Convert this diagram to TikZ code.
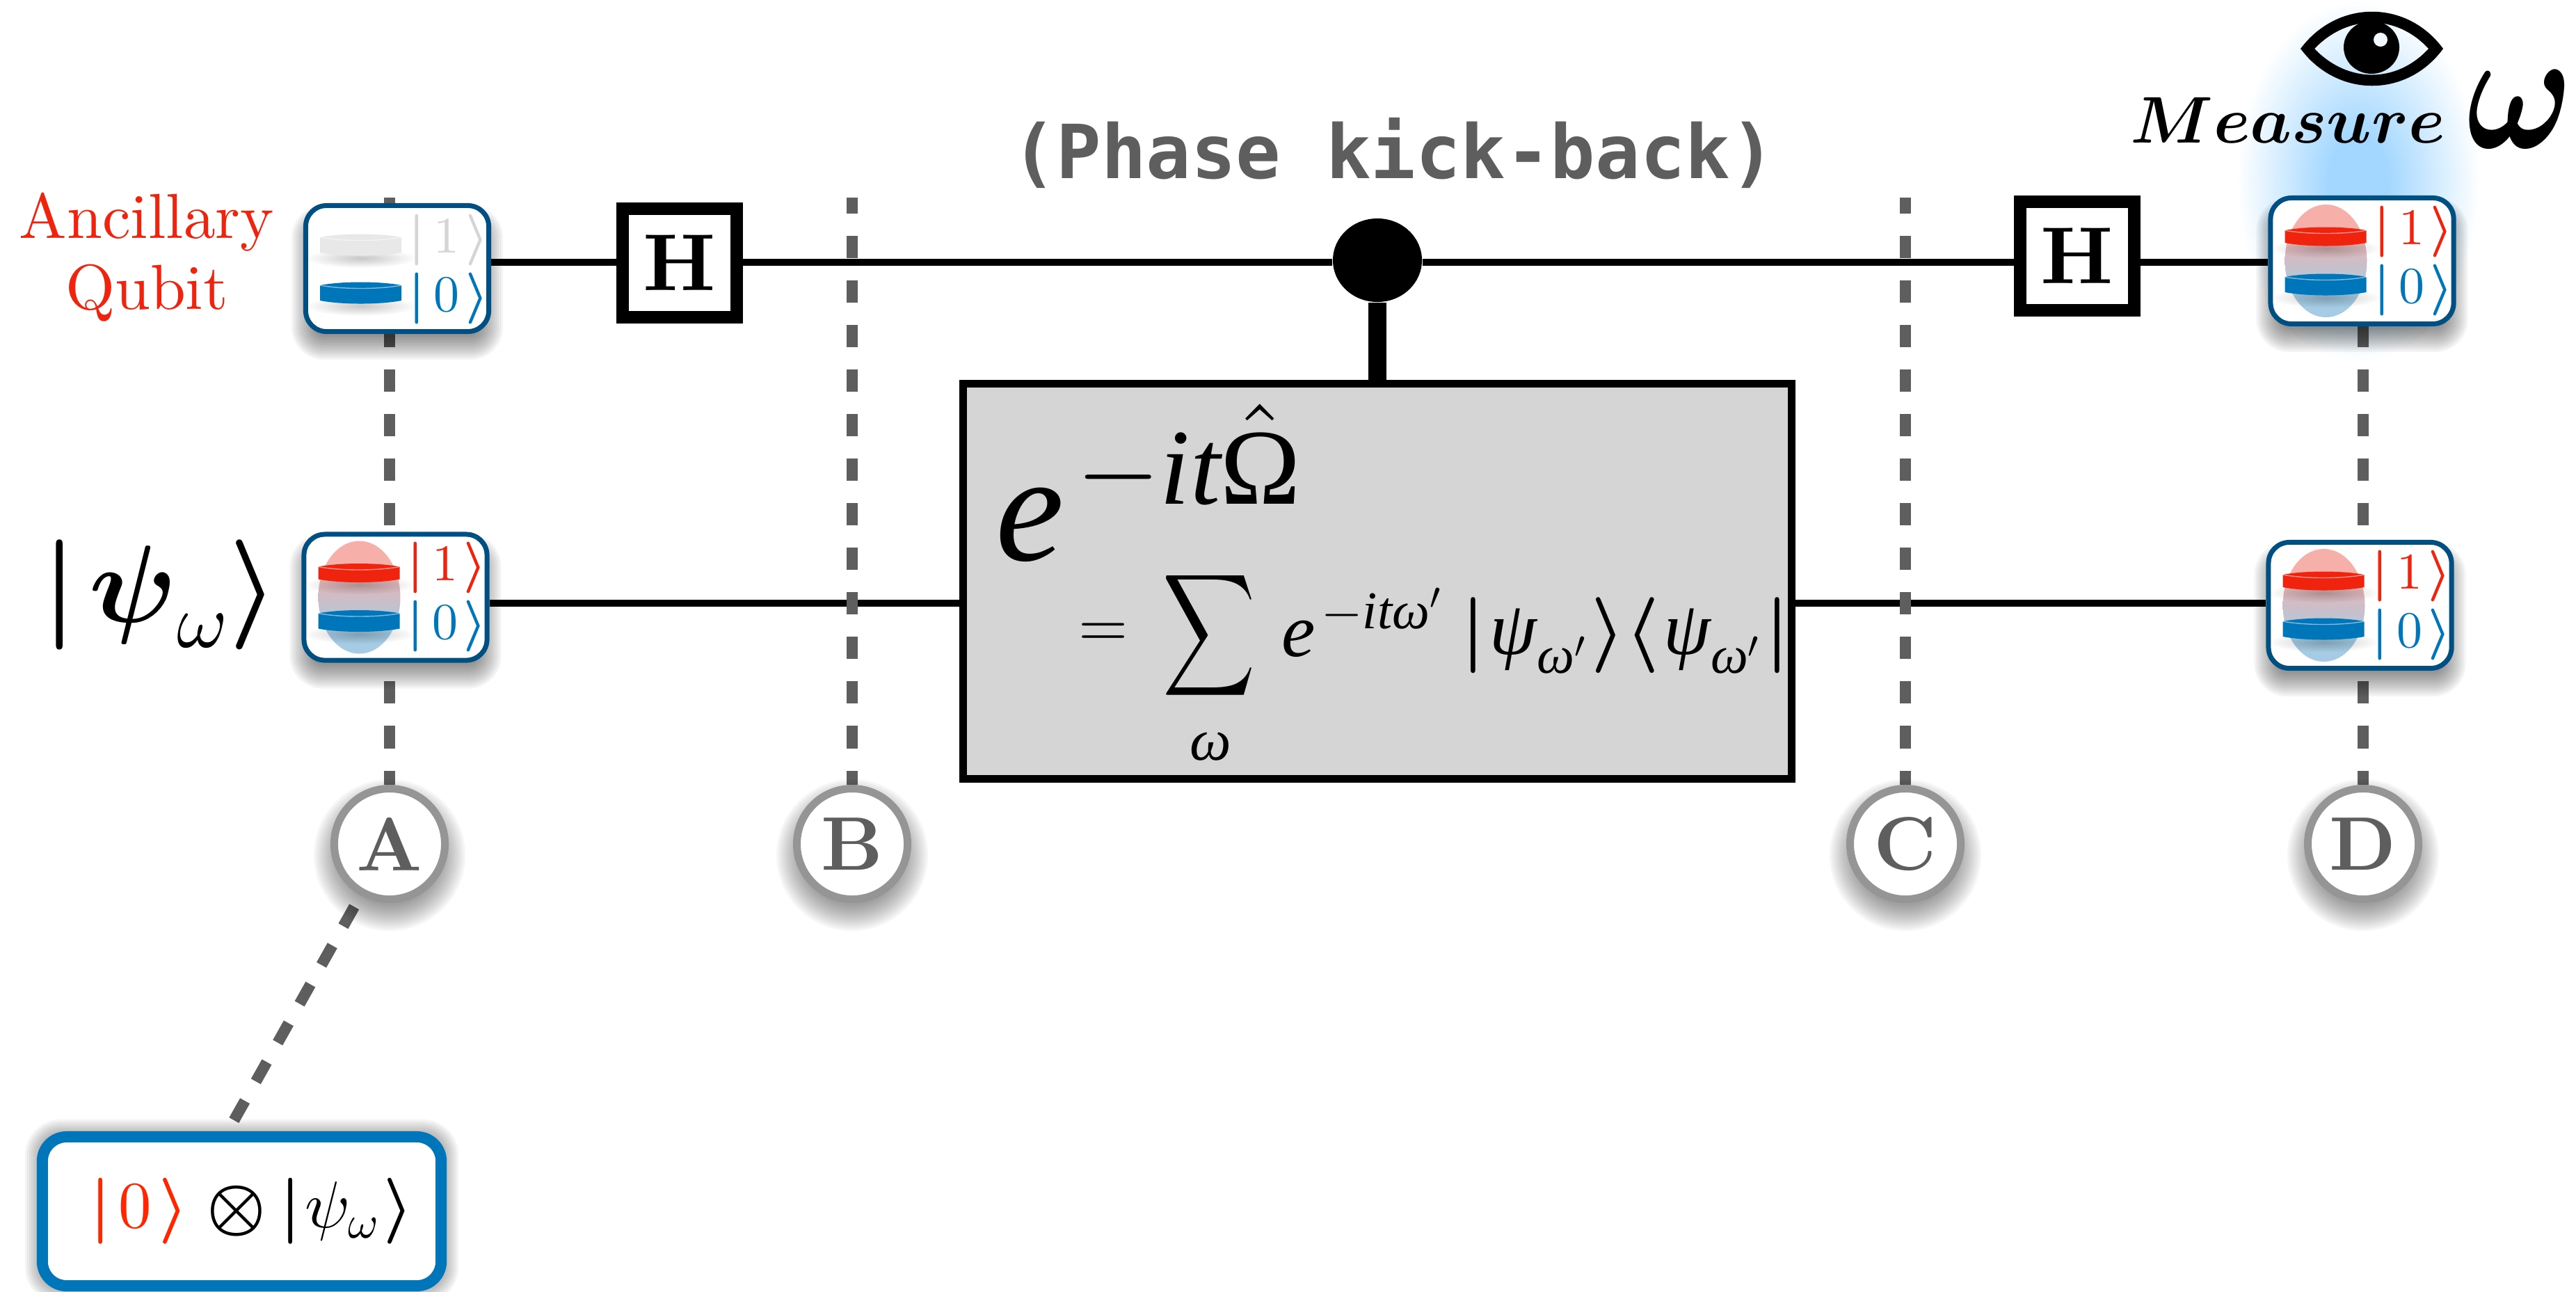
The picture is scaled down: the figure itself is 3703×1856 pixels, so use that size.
\documentclass[tikz,border=0pt]{standalone}
\usepackage{amsmath}
\usepackage{graphicx}
\usepackage{fontspec}
\setmainfont{lmroman10-regular.otf}[BoldFont=lmroman10-bold.otf]
\newfontfamily\timesfont{Liberation Serif}
\newfontfamily\chalkfont{DejaVu Sans Mono}
\usetikzlibrary{shapes.geometric,fadings}

% math glyphs keep their 10pt design at every size
\DeclareFontFamily{OT1}{cmr}{\hyphenchar\font45 }
\DeclareFontShape{OT1}{cmr}{m}{n}{<->cmr10}{}
\DeclareFontFamily{OML}{cmm}{\skewchar\font127 }
\DeclareFontShape{OML}{cmm}{m}{it}{<->cmmi10}{}
\DeclareFontShape{OML}{cmm}{b}{it}{<->cmmib10}{}
\DeclareFontFamily{OMS}{cmsy}{\skewchar\font48 }
\DeclareFontShape{OMS}{cmsy}{m}{n}{<->cmsy10}{}
\DeclareFontShape{OMS}{cmsy}{b}{n}{<->cmbsy10}{}
\DeclareFontFamily{OMX}{cmex}{}
\DeclareFontShape{OMX}{cmex}{m}{n}{<->cmex10}{}

\definecolor{qred}{HTML}{F0230F}
\definecolor{prodred}{HTML}{FF2600}
\definecolor{qblue}{HTML}{0076BA}
\definecolor{framenavy}{HTML}{004F82}
\definecolor{slicegray}{HTML}{5E5E5E}
\definecolor{ringgray}{HTML}{959595}
\definecolor{gatefill}{HTML}{D5D5D5}
\definecolor{idledisc}{HTML}{E8E8E8}
\definecolor{cloudred}{HTML}{F7AFA9}
\definecolor{cloudblue}{HTML}{A5CCE4}
\definecolor{glowblue}{HTML}{A3D7FF}

\pgfdeclareverticalshading{cloudshade}{100bp}{color(0bp)=(cloudblue); color(36bp)=(cloudblue); color(64bp)=(cloudred); color(100bp)=(cloudred)}
\pgfdeclareradialshading{glowshade}{\pgfpointorigin}{color(0bp)=(glowblue); color(6bp)=(glowblue); color(25bp)=(white); color(50bp)=(white)}
\tikzfading[name=discfade, inner color=transparent!0, outer color=transparent!100]

\pgfdeclarelayer{wires}
\pgfdeclarelayer{dashes}
\pgfdeclarelayer{shades}
\pgfsetlayers{wires,dashes,shades,main}

\tikzset{
  qubitcell/.style={draw=framenavy, fill=white, line width=0.07cm, rounded corners=0.3cm,
    minimum width=2.63cm, minimum height=1.81cm, inner sep=0},
  ketlabel/.style={inner sep=0, font=\fontsize{21}{21}\selectfont},
  hgate/.style={draw=black, fill=white, line width=0.18cm, minimum width=1.64cm,
    minimum height=1.56cm, inner sep=0, font=\fontsize{33}{33}\selectfont\bfseries},
  slicemark/.style={circle, draw=ringgray, fill=white, line width=0.11cm, minimum size=1.59cm,
    inner sep=0, text=slicegray, font=\fontsize{31}{31}\selectfont\bfseries},
  wire/.style={line width=0.1cm, black},
  slice/.style={line width=0.16cm, slicegray, dash pattern=on 0.32cm off 0.32cm},
  plain/.style={inner sep=0},
}

\newcommand{\tms}[1]{\text{\timesfont\itshape #1}}
\newcommand{\qbar}{\boldsymbol{|}}
\newcommand{\qopen}{\boldsymbol{\langle}}
\newcommand{\qclose}{\boldsymbol{\rangle}}

% soft shadow under a rounded box
\newcommand{\boxshade}[3]{%
  \begin{pgfonlayer}{shades}
    \foreach \s in {-16,-13,...,18}
      \fill[black, opacity=0.045, rounded corners={(#2+\s)*0.2845pt}]
        ([shift={(-\s,\s+#3)}]#1.south west) rectangle ([shift={(\s,-\s+#3)}]#1.north east);
  \end{pgfonlayer}}

% soft shadow under a round mark
\newcommand{\markshade}[1]{%
  \begin{pgfonlayer}{shades}
    \foreach \s in {-12,-9,...,24}
      \fill[black, opacity=0.035] ([yshift=-0.16cm]#1.center) circle ({85+\s});
  \end{pgfonlayer}}

\newcommand{\leveldisc}[3]{%
  \fill[black, opacity=0.22, path fading=discfade] (-52,{#2+8}) ellipse (80 and 14);
  \fill[#3] (-111,#1) -- (-111,#2) .. controls (-80,{#2+6}) and (-25,{#2+6}) .. (6,#2)
    -- (6,#1) .. controls (-25,{#1-6}) and (-80,{#1-6}) .. (-111,#1);
  \draw[white, opacity=0.5, line width=0.4pt] (-111,#1) .. controls (-80,{#1+6}) and (-25,{#1+6}) .. (6,#1);}

% cell holding a mix of both levels
\newcommand{\mixedcell}[2]{%
  \node[qubitcell] (#1) at (#2) {};
  \boxshade{#1}{30}{20}
  \begin{scope}[shift={(#1)}]
    \shade[shading=cloudshade] (-52,0) ellipse (59 and 81);
    \leveldisc{-44}{-26}{qred}
    \leveldisc{23}{45}{qblue}
    \node[ketlabel, text=qred] (#1one) at (74,-42) {$\qbar\mkern3mu 1\mkern2mu\qclose$};
    \node[ketlabel, text=qblue] (#1zero) at (74,42) {$\qbar\mkern3mu 0\mkern2mu\qclose$};
  \end{scope}}

\begin{document}
\begin{tikzpicture}[x=0.01cm, y=-0.01cm]
\useasboundingbox (0,0) rectangle (3703,1856);

% Glow behind the measurement
\begin{pgfonlayer}{wires}
  \shade[shading=glowshade] (3390,260) ellipse (175 and 260);
\end{pgfonlayer}

% Ancilla cell
\node[qubitcell] (qAnc) at (571,386) {};
\boxshade{qAnc}{30}{20}
\begin{scope}[shift={(qAnc)}]
  \leveldisc{-45}{-23}{idledisc}
  \leveldisc{24}{46}{qblue}
  \node[ketlabel, text=gatefill] (qAncone) at (74,-41) {$\qbar\mkern3mu 1\mkern2mu\qclose$};
  \node[ketlabel, text=qblue] (qAnczero) at (74,43) {$\qbar\mkern3mu 0\mkern2mu\qclose$};
\end{scope}

% Other cells
\mixedcell{qSys}{568.5,858.5}
\mixedcell{qAncEnd}{3395.5,375}
\mixedcell{qSysEnd}{3392.5,870}

% Gates
\node[hgate] (hLeft) at (977,378) {H};
\node[hgate] (hRight) at (2986,368) {H};
\node[draw=black, fill=gatefill, line width=0.11cm, minimum width=11.9cm, minimum height=5.68cm,
  inner sep=0] (unitary) at (1980,835.5) {};
\node[ellipse, fill=black, minimum width=1.28cm, minimum height=1.2cm, inner sep=0] (ctrl) at (1980,374) {};
\coordinate (lowrail) at (0,867);
\coordinate (toprail) at (0,377);

% Rails
\begin{pgfonlayer}{wires}
  \draw[wire] (qAnc.east |- toprail) -- (hLeft.west |- toprail);
  \draw[wire] (hLeft.east |- toprail) -- (ctrl.west |- toprail);
  \draw[wire] (ctrl.east |- toprail) -- (hRight.west |- toprail);
  \draw[wire] (hRight.east |- toprail) -- (qAncEnd.west |- toprail);
  \draw[wire] (qSys.east |- lowrail) -- (unitary.west |- lowrail);
  \draw[wire] (unitary.east |- lowrail) -- (qSysEnd.west |- lowrail);
  \draw[line width=0.26cm, black] (ctrl) -- (unitary.north -| ctrl);
\end{pgfonlayer}

% Slices
\foreach \nm/\px in {A/560,B/1225,C/2739,D/3397}{
  \node[slicemark] (mark\nm) at (\px,1213) {\nm};
  \markshade{mark\nm}
  \coordinate (top\nm) at (\px,284);
  \begin{pgfonlayer}{dashes}
    \draw[slice, dash phase=0.09cm] (top\nm) -- (mark\nm);
  \end{pgfonlayer}
}

% Product state
\node[draw=qblue, fill=white, line width=0.16cm, rounded corners=0.35cm, minimum width=5.73cm,
  minimum height=2.14cm, inner sep=0, font=\fontsize{27}{27}\selectfont] (prod) at (347.5,1741)
  {\hspace{0.28cm}$\textcolor{prodred}{\qbar\mkern2mu 0\mkern2mu\qclose}\mkern1mu\boldsymbol{\otimes}\qbar\mkern1mu\psi_{\omega}\mkern1mu\qclose$};
\boxshade{prod}{35}{0}
\begin{pgfonlayer}{dashes}
  \draw[slice, dash phase=0.455cm] (markA) -- ([xshift=-0.2cm]prod.north);
\end{pgfonlayer}

% Labels on the left
\node[plain, align=center, text=qred, font=\fontsize{26}{29}\selectfont] (ancLabel) at (211,370) {Ancillary\\Qubit};
\node[plain, anchor=base west, font=\fontsize{45}{45}\selectfont] (sysLabel) at (60,894)
  {$\qbar\mkern2mu\boldsymbol{\psi}_{\omega}\qclose$};

% Heading over the controlled gate
\node[plain, text=slicegray, font=\fontsize{30.5}{30.5}\selectfont\chalkfont\bfseries] (kick) at (2003,220) {(Phase kick-back)};

% Unitary text
\node[plain, anchor=base west, font=\fontsize{63}{63}\selectfont] (expBig) at (1431,805)
  {$\tms{e}^{\mkern2mu-\tms{it}\hat{\text{\timesfont Ω}}}$};
\node[plain, font=\fontsize{26}{26}\selectfont] (eqSign) at (1586,913) {$=$};
\node[plain, font=\fontsize{32}{32}\selectfont] (sumSign) at (1738,913) {\scalebox{0.82}[1.09]{$\displaystyle\sum$}};
\node[plain, font=\fontsize{24}{24}\selectfont] (sumIdx) at (1740,1073) {$\tms{ω}$};
\node[plain, anchor=base west, font=\fontsize{31}{31}\selectfont] (expSmall) at (1842,943)
  {$\tms{e}^{\mkern2mu-\tms{it}\tms{ω}'}$};
\node[plain, anchor=base west, font=\fontsize{31}{31}\selectfont] (proj) at (2100,940)
  {$\qbar\mkern1mu\tms{ψ}_{\tms{ω}'}\mkern1mu\qclose\qopen\mkern1mu\tms{ψ}_{\tms{ω}'}\mkern1mu\qbar$};

% Measurement label
\node[plain, anchor=base west, font=\fontsize{27}{27}\selectfont] (measure) at (3062,205) {$\boldsymbol{Measure}$};
\node[plain, anchor=base west, font=\fontsize{58}{58}\selectfont] (measureOmega) at (3545,212) {\scalebox{1}[1.22]{$\boldsymbol{\omega}$}};

% Eye
\fill[black, even odd rule] (3307,70) .. controls (3360,-1) and (3460,-1) .. (3512,70)
  .. controls (3460,141) and (3360,141) .. (3307,70)
  (3327,70) .. controls (3375,20) and (3445,20) .. (3491,70)
  .. controls (3445,120) and (3375,120) .. (3327,70);
\fill[black] (3409,68) ellipse (40 and 38);
\fill[white!85!glowblue] (3422,57) circle (10);

\end{tikzpicture}
\end{document}
